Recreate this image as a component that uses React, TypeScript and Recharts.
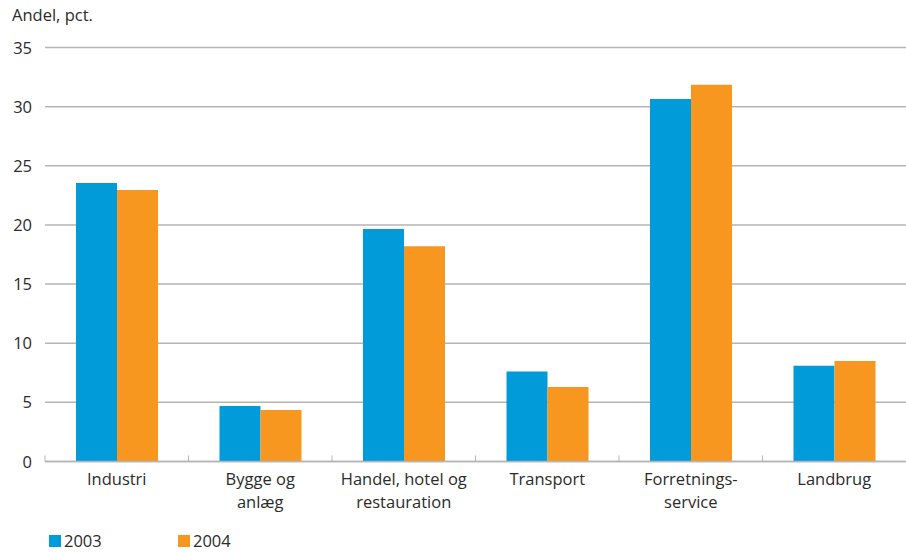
import React from "react";
import { BarChart, Bar, XAxis, YAxis, CartesianGrid } from "recharts";

const categories = [
  "Industri",
  "Bygge og\nanlæg",
  "Handel, hotel og\nrestauration",
  "Transport",
  "Forretnings-\nservice",
  "Landbrug",
];
const values2003 = [23.55, 4.7, 19.65, 7.6, 30.65, 8.1];
const values2004 = [22.95, 4.35, 18.2, 6.3, 31.85, 8.5];
const yTicks = [0, 5, 10, 15, 20, 25, 30, 35];
const seriesNames = ["2003", "2004"];
const colors = ["#009bd8", "#f7971f"];

const data = categories.map((c, i) => ({ name: c, a: values2003[i], b: values2004[i] }));

const W = 906;
const H = 553;
const LEFT = 45;
const FONT = "'Open Sans', 'Noto Sans', sans-serif";
const TEXT = "#2b2b2b";
const GRID = "#b5b5b8";

const XTick = (props: any) => {
  const { x, y, payload } = props;
  const band = (W - LEFT) / categories.length;
  const lines = String(payload.value).split("\n");
  return (
    <g>
      <line x1={x - band / 2} x2={x - band / 2} y1={y - 8} y2={y - 2} stroke={GRID} strokeWidth={1} />
      <text x={x} y={y} textAnchor="middle" fill={TEXT} fontSize={16.5} fontFamily={FONT}>
        {lines.map((l, i) => (
          <tspan key={i} x={x} dy={i === 0 ? 21 : 23}>
            {l}
          </tspan>
        ))}
      </text>
    </g>
  );
};

const YTick = (props: any) => {
  const { y, payload } = props;
  return (
    <text x={32} y={y} dy={6} textAnchor="end" fill={TEXT} fontSize={16.5} fontFamily={FONT}>
      {payload.value}
    </text>
  );
};

export default function App() {
  return (
    <div style={{ position: "absolute", left: 0, top: 0, width: W, height: H, background: "#fff" }}>
      <div
        style={{
          position: "absolute",
          left: 12,
          top: 3,
          fontFamily: FONT,
          fontSize: 16.5,
          color: TEXT,
        }}
      >
        Andel, pct.
      </div>
      <BarChart
        width={W}
        height={H}
        data={data}
        margin={{ top: 47.5, right: 0, left: 0, bottom: 0 }}
        barGap={0}
      >
        <CartesianGrid vertical={false} stroke={GRID} strokeWidth={1.5} />
        <XAxis
          dataKey="name"
          interval={0}
          axisLine={{ stroke: GRID, strokeWidth: 1.5 }}
          tickLine={false}
          tick={<XTick />}
          tickSize={0}
          height={91.5}
        />
        <YAxis
          width={LEFT}
          domain={[0, 35]}
          ticks={yTicks}
          axisLine={false}
          tickLine={false}
          tick={<YTick />}
        />
        <Bar dataKey="a" name={seriesNames[0]} fill={colors[0]} barSize={41} isAnimationActive={false} />
        <Bar dataKey="b" name={seriesNames[1]} fill={colors[1]} barSize={41} isAnimationActive={false} />
      </BarChart>
      {seriesNames.map((s, i) => (
        <div
          key={s}
          style={{
            position: "absolute",
            left: 49 + i * 129,
            top: 529,
            display: "flex",
            alignItems: "center",
            fontFamily: FONT,
            fontSize: 16.5,
            color: TEXT,
          }}
        >
          <span style={{ display: "inline-block", width: 12, height: 12, background: colors[i], marginRight: 3 }} />
          {s}
        </div>
      ))}
    </div>
  );
}
